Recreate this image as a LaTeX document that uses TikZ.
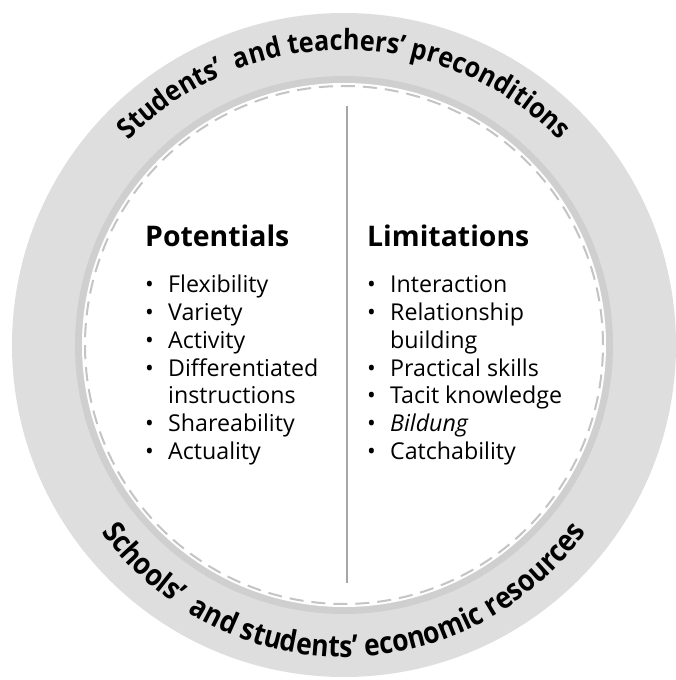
\documentclass[tikz,border=0pt]{standalone}
\usepackage{fontspec}
\setmainfont{Open Sans}
\newfontfamily\arcfonttop[FakeStretch=0.9]{Open Sans}
\newfontfamily\arcfontbot[FakeStretch=0.88]{Open Sans}
\usetikzlibrary{decorations.text}
\definecolor{bandgray}{HTML}{DEDEDE}
\definecolor{ringgray}{HTML}{CFCFCF}
\definecolor{dashgray}{HTML}{C4C4C4}
\definecolor{linegray}{HTML}{A6A6A6}
\pgfdeclareradialshading{innershadow}{\pgfpoint{0bp}{0bp}}{color(0bp)=(white); color(44.5bp)=(white); color(47.3bp)=(ringgray!55!white); color(50bp)=(ringgray)}
\tikzset{
  head/.style={font=\fontsize{28.4}{32}\selectfont\bfseries, inner sep=0pt, anchor=base west},
  itemlist/.style={font=\fontsize{23.2}{27.7}\selectfont, inner sep=0pt, anchor=base west, align=left},
  arctext/.style={decorate, decoration={text along path, text align=center, text={#1}}},
}
\newcommand{\bul}{\makebox[23pt][l]{•}}
\begin{document}
\begin{tikzpicture}[x=1pt,y=1pt]
\useasboundingbox (-344,-335) rectangle (331,345);
\coordinate (c) at (0,0);
\fill[bandgray] (c) circle (332pt);
\fill[ringgray] (c) circle (269pt);
\shade[shading=innershadow] (c) circle (262pt);
\draw[dashgray, line width=2pt, dash pattern=on 14pt off 8pt] (c) circle (259pt);
\coordinate (lt) at (3,239);
\coordinate (lb) at (3,-238);
\draw[linegray, line width=1.2pt] (lt) -- (lb);
\node[head] (pot) at (-199,98) {Potentials};
\node[head] (lim) at (23,98) {Limitations};
\node[itemlist] (potlist) at (-199,52) {\begin{tabular}[t]{@{}l@{}}
\bul Flexibility\\
\bul Variety\\
\bul Activity\\
\bul Differentiated\\
\hspace{23pt}instructions\\
\bul Shareability\\
\bul Actuality
\end{tabular}};
\node[itemlist] (limlist) at (23,52) {\begin{tabular}[t]{@{}l@{}}
\bul Interaction\\
\bul Relationship\\
\hspace{23pt}building\\
\bul Practical skills\\
\bul Tacit knowledge\\
\bul \textit{Bildung}\\
\bul Catchability
\end{tabular}};
\path[arctext={|\arcfonttop\fontsize{28}{32}\selectfont\bfseries|Students’{\ } and teachers’ preconditions}]
  (150:299pt and 295pt) arc[start angle=150, end angle=30, x radius=299pt, y radius=295pt];
\path[arctext={|\arcfontbot\fontsize{30}{34}\selectfont\bfseries|Schools’{\ } and students’ economic resources}]
  (200:303pt and 312pt) arc[start angle=200, end angle=340, x radius=303pt, y radius=312pt];
\end{tikzpicture}
\end{document}
